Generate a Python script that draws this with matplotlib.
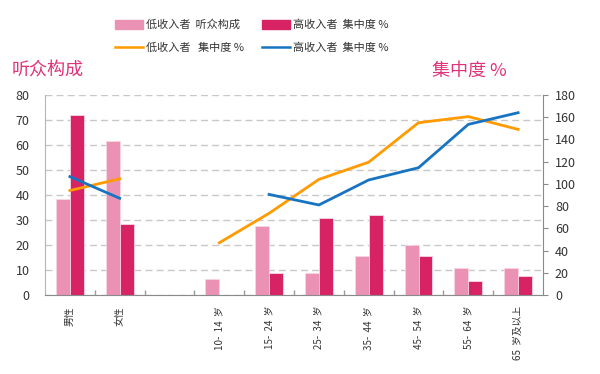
import numpy as np
import matplotlib
matplotlib.use("Agg")
import matplotlib.pyplot as plt
from matplotlib.patches import Patch
from matplotlib.lines import Line2D

plt.rcParams['font.family'] = ['Noto Sans CJK SC', 'DejaVu Sans']

# ---------------------------
# DATA
# ---------------------------
categories = ["男性", "女性", "", "10-  14  岁", "15-  24  岁", "25-  34  岁",
              "35-  44  岁", "45-  54  岁", "55-  64  岁", "65  岁及以上"]
low_share = [38.3, 61.6, np.nan, 6.5, 27.6, 8.7, 15.7, 19.9, 10.7, 10.7]
high_share = [72, 28.5, np.nan, np.nan, 8.7, 30.7, 32, 15.7, 5.6, 7.6]
low_conc = [94, 104.5, np.nan, 47, 73.5, 104, 119.5, 155, 160.5, 149]
high_conc = [106.5, 87, np.nan, np.nan, 90.5, 81, 103.5, 114.5, 153.5, 164]

label_low_bar = "低收入者  听众构成"
label_high_bar = "高收入者  集中度 %"
label_low_line = "低收入者   集中度 %"
label_high_line = "高收入者  集中度 %"

# ---------------------------
# COLOURS
# ---------------------------
c_low = "#EB92B4"
c_high = "#D72363"
c_orange = "#FF9A00"
c_blue = "#1874C1"
c_title = "#E0337A"
c_text = "#333333"

fig = plt.figure(figsize=(6, 3.74), dpi=100)
ax = fig.add_axes([0.075, 0.2112, 0.83, 0.535])

x = np.arange(len(categories))
w = 0.28
ax.bar(x - w / 2, low_share, w, color=c_low, edgecolor="#F8D6E3", linewidth=0.6)
ax.bar(x + w / 2, high_share, w, color=c_high, edgecolor="#F8D6E3", linewidth=0.6)

ax.set_xlim(-0.5, len(categories) - 0.5)
ax.set_ylim(0, 80)
ax.set_yticks(range(0, 81, 10))
ax.set_axisbelow(True)
ax.yaxis.grid(True, color="#C8C8C8", linestyle=(0, (5, 3)), linewidth=1)

ax.set_xticks(x)
ax.set_xticklabels(categories, rotation=90, fontsize=7, color=c_text, va="top")
ax.set_xticks(np.arange(0.5, len(categories) - 0.5, 1), minor=True)
ax.tick_params(axis="x", which="major", length=0, pad=8)
ax.tick_params(axis="x", which="minor", direction="in", length=3.6,
               color="#999999", width=1)
ax.tick_params(axis="y", length=0, pad=11, labelsize=9, labelcolor=c_text)

ax.spines["top"].set_visible(False)
ax.spines["right"].set_visible(False)
ax.spines["left"].set_color("#B5B5B5")
ax.spines["bottom"].set_color("#8A8A8A")

# ---------------------------
# RIGHT AXIS LINES
# ---------------------------
ax2 = ax.twinx()
ax2.plot(x, low_conc, color=c_orange, linewidth=2)
ax2.plot(x, high_conc, color=c_blue, linewidth=2)
ax2.set_ylim(0, 180)
ax2.set_yticks(range(0, 181, 20))
ax2.tick_params(axis="y", length=3.6, color="#8A8A8A", pad=5,
                labelsize=9, labelcolor=c_text)
ax2.spines["top"].set_visible(False)
ax2.spines["left"].set_visible(False)
ax2.spines["bottom"].set_visible(False)
ax2.spines["right"].set_color("#8A8A8A")

fig.text(0.02, 0.812, "听众构成", color=c_title, fontsize=13, va="center")
fig.text(0.845, 0.812, "集中度 %", color=c_title, fontsize=13, va="center", ha="right")

handles = [Patch(color=c_low), Line2D([], [], color=c_orange, linewidth=1.8),
           Patch(color=c_high), Line2D([], [], color=c_blue, linewidth=1.8)]
labels = [label_low_bar, label_low_line, label_high_bar, label_high_line]
fig.legend(handles, labels, ncol=2, loc="center", bbox_to_anchor=(0.42, 0.903),
           frameon=False, fontsize=8, handlelength=2.5, handleheight=0.9,
           handletextpad=0.3, columnspacing=1.6, labelspacing=1.1,
           labelcolor=c_text)

fig.savefig("out.png", dpi=100)
